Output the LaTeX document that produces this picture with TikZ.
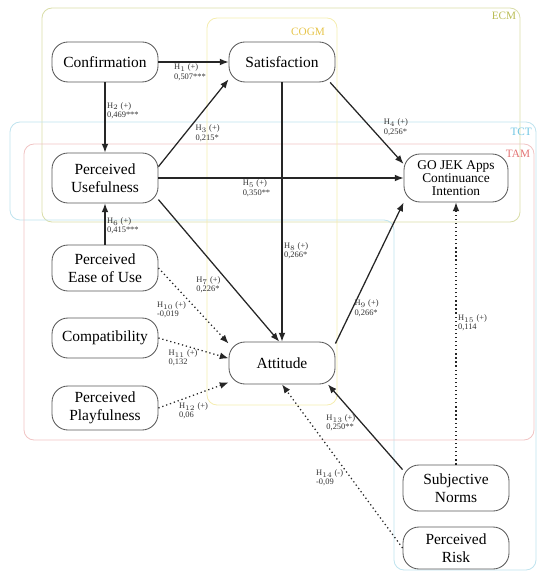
\documentclass[tikz,border=0pt]{standalone}
\usepackage{fontspec}
\setmainfont{Liberation Serif}
\usetikzlibrary{positioning,arrows.meta}
\definecolor{ecmline}{HTML}{D9DDA8}
\definecolor{ecmtext}{HTML}{B9BC55}
\definecolor{cogmline}{HTML}{F5EDB0}
\definecolor{cogmtext}{HTML}{E6C44A}
\definecolor{tctline}{HTML}{BFE3EE}
\definecolor{tcttext}{HTML}{6EC5E3}
\definecolor{tamline}{HTML}{F0C4C4}
\definecolor{tamtext}{HTML}{E27272}

\begin{document}
\begin{tikzpicture}[on grid,
    construct/.style={draw=black!65, line width=0.6pt, rounded corners=0.4cm, fill=white, align=center,
        minimum width=2.65cm, minimum height=1cm, inner sep=1pt, font=\fontsize{11}{12.5}\selectfont},
    hyp/.style={line width=0.9pt, draw=black!85, -{Latex[length=2.2mm,width=1.7mm]}},
    weakhyp/.style={hyp, dotted},
    est/.style={font=\fontsize{6}{6.5}\selectfont, align=left, inner sep=1pt, text=black!80},
    model/.style={line width=0.6pt, rounded corners=0.25cm},
    modelname/.style={font=\fontsize{8}{8}\selectfont, inner sep=0pt}]
    \useasboundingbox (0,0) rectangle (13.45,-14.325);
    \draw[model, draw=ecmline] (1.05,-0.2) rectangle (13.0,-5.55);
    \draw[model, draw=tctline] (0.25,-3.05) -- (13.4,-3.05) -- (13.4,-14.25) -- (9.85,-14.25)
        -- (9.85,-5.5) -- (0.25,-5.5) -- cycle;
    \draw[model, draw=tamline] (0.6,-3.6) rectangle (13.35,-11.0);
    \draw[model, draw=cogmline] (5.175,-0.45) rectangle (8.425,-10.125);
    \node[modelname, text=ecmtext] (ecmname) at (12.6,-0.4) {ECM};
    \node[modelname, text=cogmtext] (cogmname) at (7.7,-0.8) {COGM};
    \node[modelname, text=tcttext] (tctname) at (13.03,-3.3) {TCT};
    \node[modelname, text=tamtext] (tamname) at (12.95,-3.85) {TAM};

    \node[construct] (conf) at (2.625,-1.55) {Confirmation};
    \node[construct, right=4.425cm of conf] (sat) {Satisfaction};
    \node[construct, minimum height=1.25cm, below=2.9cm of conf] (pu) {Perceived\\Usefulness};
    \node[construct, minimum width=2.6cm, minimum height=1.2cm, font=\fontsize{9.5}{9.5}\selectfont,
        right=8.775cm of pu] (int) {GO JEK Apps\\Continuance\\Intention};
    \node[construct, minimum height=1.15cm, below=2.25cm of pu] (peou) {Perceived\\Ease of Use};
    \node[construct, below=1.75cm of peou] (comp) {Compatibility};
    \node[construct, minimum height=1.1cm, below=1.75cm of comp] (play) {Perceived\\Playfulness};
    \node[construct, minimum height=1.05cm, below=7.525cm of sat] (att) {Attitude};
    \node[construct, minimum height=1.15cm, below=7.75cm of int] (sn) {Subjective\\Norms};
    \node[construct, minimum height=1.05cm, below=1.5cm of sn] (risk) {Perceived\\Risk};

    \draw[hyp] (conf) -- node[est, below, pos=0.45] {H$_{1}$ (+)\\0,507***} (sat);
    \draw[hyp] (conf) -- node[est, right, pos=0.4] {H$_{2}$ (+)\\0,469***} (pu);
    \draw[hyp] (pu.12) -- node[est, below right, pos=0.5] {H$_{3}$ (+)\\0,215*} (sat.198);
    \draw[hyp] (sat.337) -- node[est, right, pos=0.55, xshift=8pt] {H$_{4}$ (+)\\0,256*} (int.165);
    \draw[hyp] (pu) -- node[est, below, pos=0.4] {H$_{5}$ (+)\\0,350**} (int);
    \draw[hyp] (peou) -- node[est, right, pos=0.45] {H$_{6}$ (+)\\0,415***} (pu);
    \draw[hyp] (pu.338) -- node[est, left, pos=0.6, xshift=-6pt] {H$_{7}$ (+)\\0,226*} ([xshift=-2pt]att.north);
    \draw[hyp] (sat) -- node[est, right, pos=0.65] {H$_{8}$ (+)\\0,266*} (att);
    \draw[hyp] (att.20) -- node[est, right, pos=0.25] {H$_{9}$ (+)\\0,266*} (int.205);
    \draw[weakhyp] (peou.east) -- node[est, below left, pos=0.42] {H$_{10}$ (+)\\-0,019} (att.160);
    \draw[weakhyp] (comp.east) -- node[est, below, pos=0.35, yshift=-2pt] {H$_{11}$ (+)\\0,132} (att.175);
    \draw[weakhyp] (play.east) -- node[est, below, pos=0.5, yshift=-4pt] {H$_{12}$ (+)\\0,06} (att.200);
    \draw[hyp] (sn.161) -- node[est, left, pos=0.55, xshift=-3pt] {H$_{13}$ (+)\\0,250**} (att.335);
    \draw[weakhyp] (risk.west) -- node[est, left, pos=0.43, xshift=-4pt] {H$_{14}$ (-)\\-0,09} (att.south);
    \draw[weakhyp] (sn) -- node[est, right, pos=0.54] {H$_{15}$ (+)\\0,114} (int);
\end{tikzpicture}
\end{document}
